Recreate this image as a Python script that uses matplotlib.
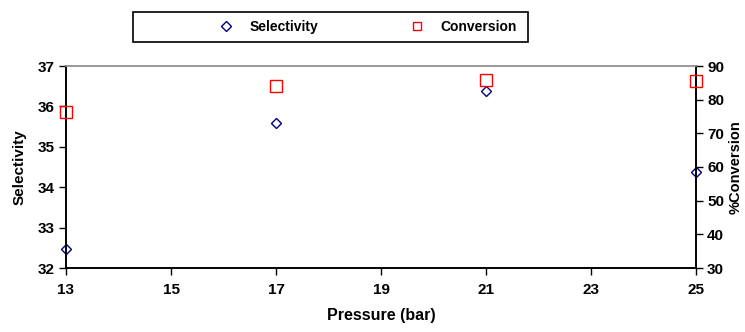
import matplotlib.pyplot as plt
from matplotlib.patches import Rectangle
from matplotlib.lines import Line2D

# data
pressure = [13, 17, 21, 25]
selectivity = [32.46, 35.58, 36.37, 34.38]
conversion = [76.4, 84.2, 85.8, 85.6]

x_ticks = [13, 15, 17, 19, 21, 23, 25]
sel_ticks = [32, 33, 34, 35, 36, 37]
conv_ticks = [30, 40, 50, 60, 70, 80, 90]

plt.rcParams['font.family'] = ['Liberation Sans', 'DejaVu Sans']
plt.rcParams['font.weight'] = 'bold'
plt.rcParams['font.size'] = 10

fig = plt.figure(figsize=(7.45, 3.32), dpi=100)
ax1 = fig.add_axes([66/745, 1 - 268/332, (696 - 66)/745, (268 - 66)/332])
ax2 = ax1.twinx()

ax1.plot(pressure, selectivity, 'D', ms=5.5, mfc='none', mec='#000080',
         mew=1.0, clip_on=False, zorder=5)
ax2.plot(pressure, conversion, 's', ms=8, mfc='none', mec='#ff0000',
         mew=1.0, clip_on=False, zorder=5)

ax1.set_xlim(13, 25)
ax1.set_ylim(32, 37)
ax2.set_ylim(30, 90)
ax1.set_xticks(x_ticks)
ax1.set_yticks(sel_ticks)
ax2.set_yticks(conv_ticks)

for ax in (ax1, ax2):
    ax.tick_params(direction='out', length=5, width=1, colors='black',
                   labelsize=11, pad=3)
    for s in ax.spines.values():
        s.set_linewidth(1.2)
    ax.spines['top'].set_color('#999999')
ax1.tick_params(axis='x', pad=6)

for lab in ax1.get_xticklabels() + ax1.get_yticklabels() + ax2.get_yticklabels():
    lab.set_fontweight('bold')

ax1.set_xlabel('Pressure (bar)', fontsize=11.5, fontweight='bold', labelpad=8)
ax1.set_ylabel('Selectivity', fontsize=11, fontweight='bold')
ax1.yaxis.set_label_coords(-39/630, 0.5)
ax2.set_ylabel('%Conversion', fontsize=10.5, fontweight='bold')
ax2.yaxis.set_label_coords(1 + 33/630, 0.5)

# legend box on top
fig.patches.append(Rectangle((133/745, 1 - 42/332), (528 - 133)/745, 30/332,
                             transform=fig.transFigure, fill=False,
                             edgecolor='black', lw=1.2))
handles = [
    Line2D([], [], ls='none', marker='D', ms=5, mfc='none', mec='#000080', mew=1.0),
    Line2D([], [], ls='none', marker='s', ms=6, mfc='none', mec='#ff0000', mew=1.0),
]
fig.legend(handles, ['Selectivity', 'Conversion'], ncol=2, frameon=False,
           loc='center', bbox_to_anchor=(368/745, 1 - 27/332),
           handlelength=1.0, handletextpad=1.2, columnspacing=6.6,
           prop={'weight': 'bold', 'size': 10})

fig.savefig('out.png', dpi=100)
